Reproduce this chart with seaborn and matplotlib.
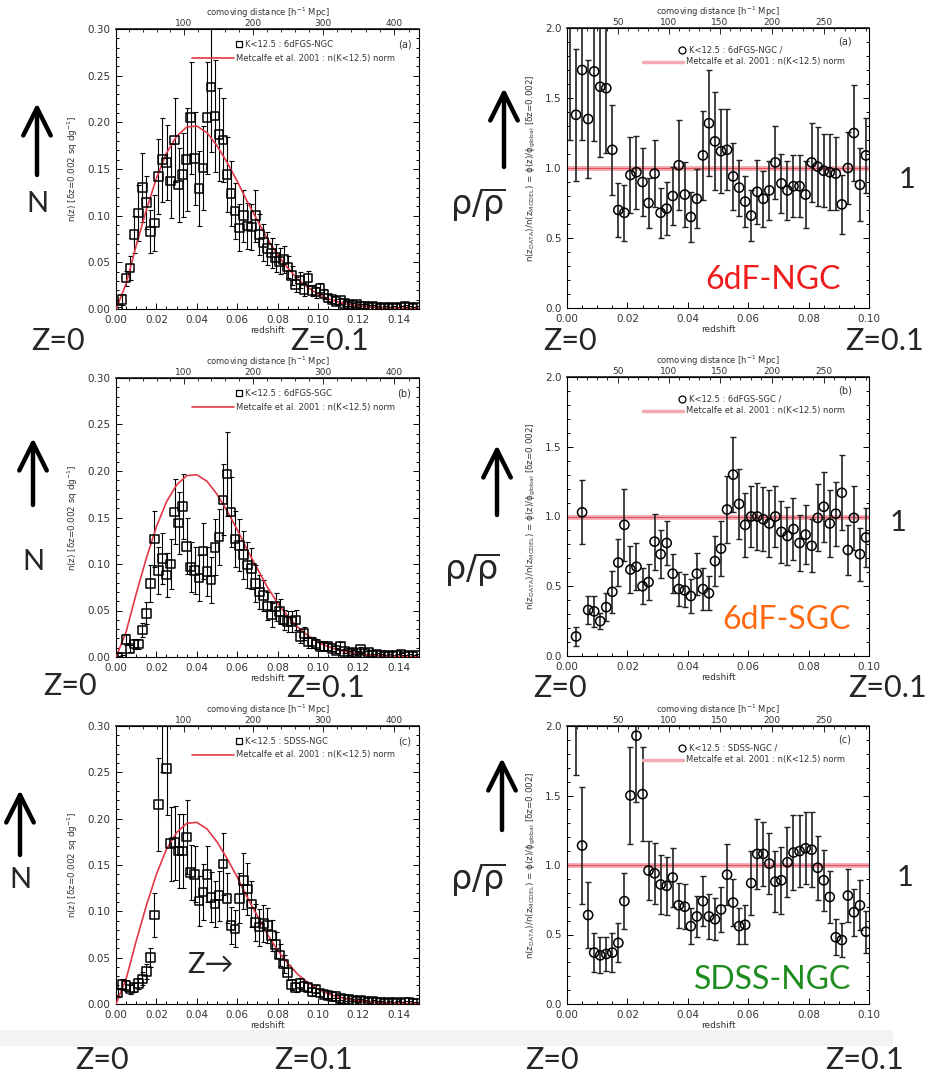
import numpy as np
import matplotlib
matplotlib.use("Agg")
import matplotlib.pyplot as plt
import seaborn as sns
from matplotlib.patches import FancyArrowPatch, Rectangle
from matplotlib.ticker import MultipleLocator, FixedLocator, FormatStrFormatter

# ---- data ----
# bin centres, dz = 0.002
z_left = np.arange(0.001, 0.150, 0.002)    # 75 bins, n(z) panels
z_right = np.arange(0.001, 0.100, 0.002)   # 50 bins, ratio panels

# Metcalfe et al. 2001 model n(K<12.5)
model_z = [0.000, 0.005, 0.010, 0.015, 0.020, 0.025, 0.030, 0.035, 0.040, 0.045,
           0.050, 0.055, 0.060, 0.065, 0.070, 0.075, 0.080, 0.085, 0.090, 0.095,
           0.100, 0.105, 0.110, 0.115, 0.120, 0.125, 0.130, 0.135, 0.140, 0.145, 0.150]
model_n = [0.000, 0.027, 0.068, 0.106, 0.140, 0.167, 0.185, 0.195, 0.196, 0.189,
           0.175, 0.157, 0.137, 0.115, 0.095, 0.075, 0.058, 0.044, 0.032, 0.023,
           0.016, 0.011, 0.0075, 0.005, 0.0033, 0.0022, 0.0014, 0.0009, 0.0006, 0.0004, 0.0002]

# (a) 6dFGS-NGC
ngc_n = [0.000, 0.010, 0.033, 0.044, 0.080, 0.103, 0.130, 0.114, 0.083, 0.092,
         0.142, 0.160, 0.157, 0.137, 0.181, 0.133, 0.144, 0.160, 0.205, 0.161,
         0.129, 0.151, 0.205, 0.238, 0.207, 0.187, 0.181, 0.144, 0.124, 0.105,
         0.087, 0.100, 0.089, 0.088, 0.100, 0.080, 0.071, 0.065, 0.060, 0.055,
         0.051, 0.053, 0.045, 0.036, 0.026, 0.031, 0.021, 0.033, 0.020, 0.018,
         0.022, 0.016, 0.012, 0.010, 0.008, 0.009, 0.006, 0.005, 0.004, 0.005,
         0.003, 0.003, 0.002, 0.003, 0.002, 0.001, 0.002, 0.001, 0.002, 0.001,
         0.002, 0.003, 0.002, 0.001, 0.002]
ngc_err = [0.002, 0.006, 0.008, 0.013, 0.020, 0.030, 0.037, 0.028, 0.023, 0.030,
           0.040, 0.045, 0.040, 0.040, 0.045, 0.040, 0.045, 0.055, 0.060, 0.050,
           0.040, 0.045, 0.060, 0.070, 0.060, 0.050, 0.045, 0.040, 0.035, 0.030,
           0.025, 0.028, 0.025, 0.025, 0.028, 0.022, 0.020, 0.018, 0.016, 0.015,
           0.014, 0.014, 0.012, 0.010, 0.008, 0.009, 0.007, 0.008, 0.006, 0.006,
           0.006, 0.005, 0.004, 0.004, 0.003, 0.003, 0.003, 0.002, 0.002, 0.002,
           0.002, 0.002, 0.002, 0.001, 0.001, 0.001, 0.001, 0.001, 0.001, 0.001,
           0.001, 0.001, 0.001, 0.001, 0.001]
ngc_ratio = [2.40, 1.38, 1.70, 1.35, 1.69, 1.58, 1.57, 1.13, 0.70, 0.68,
             0.95, 0.97, 0.90, 0.75, 0.96, 0.68, 0.71, 0.80, 1.02, 0.81,
             0.65, 0.78, 1.09, 1.32, 1.19, 1.12, 1.13, 0.94, 0.86, 0.76,
             0.66, 0.83, 0.78, 0.84, 1.04, 0.89, 0.84, 0.87, 0.87, 0.81,
             1.04, 1.01, 0.98, 0.97, 0.96, 0.74, 1.00, 1.25, 0.88, 1.09]
ngc_ratio_err = [1.20, 0.47, 0.50, 0.42, 0.50, 0.50, 0.46, 0.32, 0.19, 0.20,
                 0.27, 0.26, 0.24, 0.18, 0.24, 0.18, 0.19, 0.21, 0.32, 0.23,
                 0.18, 0.21, 0.32, 0.38, 0.35, 0.30, 0.29, 0.24, 0.20, 0.18,
                 0.18, 0.23, 0.20, 0.21, 0.26, 0.21, 0.21, 0.22, 0.22, 0.24,
                 0.28, 0.28, 0.26, 0.27, 0.26, 0.21, 0.26, 0.34, 0.26, 0.27]

# (b) 6dFGS-SGC
sgc_n = [0.000, 0.000, 0.019, 0.009, 0.014, 0.014, 0.029, 0.047, 0.079, 0.127,
         0.093, 0.106, 0.088, 0.100, 0.156, 0.144, 0.162, 0.119, 0.097, 0.093,
         0.085, 0.114, 0.092, 0.083, 0.118, 0.129, 0.169, 0.197, 0.156, 0.127,
         0.120, 0.110, 0.099, 0.095, 0.079, 0.070, 0.066, 0.055, 0.045, 0.054,
         0.049, 0.040, 0.038, 0.038, 0.040, 0.022, 0.025, 0.016, 0.016, 0.014,
         0.011, 0.011, 0.011, 0.009, 0.007, 0.012, 0.006, 0.004, 0.005, 0.004,
         0.008, 0.004, 0.005, 0.002, 0.003, 0.002, 0.001, 0.002, 0.001, 0.002,
         0.003, 0.001, 0.002, 0.001, 0.002]
sgc_err = [0.001, 0.002, 0.006, 0.004, 0.005, 0.005, 0.008, 0.012, 0.020, 0.030,
           0.025, 0.027, 0.024, 0.027, 0.035, 0.033, 0.035, 0.030, 0.027, 0.025,
           0.025, 0.030, 0.026, 0.025, 0.030, 0.030, 0.038, 0.045, 0.038, 0.030,
           0.028, 0.026, 0.025, 0.022, 0.020, 0.018, 0.017, 0.015, 0.013, 0.015,
           0.013, 0.011, 0.011, 0.011, 0.011, 0.007, 0.007, 0.006, 0.006, 0.005,
           0.004, 0.004, 0.004, 0.003, 0.003, 0.004, 0.002, 0.002, 0.002, 0.002,
           0.003, 0.002, 0.002, 0.001, 0.001, 0.001, 0.001, 0.001, 0.001, 0.001,
           0.001, 0.001, 0.001, 0.001, 0.001]
sgc_ratio = [np.nan, 0.14, 1.03, 0.33, 0.32, 0.25, 0.35, 0.46, 0.67, 0.94,
             0.62, 0.64, 0.50, 0.53, 0.82, 0.73, 0.81, 0.59, 0.48, 0.47,
             0.43, 0.59, 0.48, 0.45, 0.68, 0.77, 1.05, 1.30, 1.09, 0.94,
             1.00, 1.00, 0.98, 0.95, 1.00, 0.89, 0.86, 0.91, 0.81, 0.87,
             0.79, 0.99, 1.07, 0.95, 1.02, 1.17, 0.76, 0.99, 0.73, 0.85]
sgc_ratio_err = [np.nan, 0.07, 0.23, 0.10, 0.11, 0.06, 0.10, 0.15, 0.17, 0.26,
                 0.17, 0.17, 0.13, 0.13, 0.20, 0.17, 0.16, 0.14, 0.12, 0.12,
                 0.12, 0.15, 0.15, 0.12, 0.18, 0.20, 0.24, 0.27, 0.25, 0.23,
                 0.22, 0.24, 0.23, 0.24, 0.22, 0.22, 0.21, 0.22, 0.20, 0.21,
                 0.19, 0.24, 0.25, 0.24, 0.23, 0.27, 0.18, 0.23, 0.19, 0.21]

# (c) SDSS-NGC
sdss_n = [0.012, 0.021, 0.020, 0.016, 0.018, 0.022, 0.027, 0.035, 0.050, 0.096,
          0.215, 0.310, 0.254, 0.173, 0.174, 0.165, 0.165, 0.180, 0.142, 0.140,
          0.111, 0.121, 0.140, 0.115, 0.108, 0.117, 0.151, 0.114, 0.085, 0.081,
          0.114, 0.133, 0.124, 0.108, 0.088, 0.083, 0.087, 0.085, 0.074, 0.064,
          0.053, 0.043, 0.034, 0.021, 0.018, 0.022, 0.019, 0.018, 0.013, 0.016,
          0.012, 0.010, 0.009, 0.008, 0.008, 0.006, 0.005, 0.005, 0.004, 0.003,
          0.004, 0.003, 0.002, 0.003, 0.002, 0.002, 0.001, 0.002, 0.001, 0.002,
          0.001, 0.002, 0.002, 0.001, 0.001]
sdss_err = [0.004, 0.006, 0.006, 0.005, 0.005, 0.006, 0.007, 0.008, 0.010, 0.024,
            0.050, 0.060, 0.050, 0.040, 0.040, 0.040, 0.040, 0.040, 0.030, 0.030,
            0.027, 0.030, 0.030, 0.027, 0.025, 0.027, 0.033, 0.027, 0.020, 0.020,
            0.027, 0.030, 0.028, 0.025, 0.020, 0.020, 0.020, 0.019, 0.017, 0.014,
            0.012, 0.010, 0.008, 0.006, 0.005, 0.006, 0.005, 0.005, 0.004, 0.004,
            0.003, 0.003, 0.003, 0.002, 0.002, 0.002, 0.002, 0.002, 0.001, 0.001,
            0.001, 0.001, 0.001, 0.001, 0.001, 0.001, 0.001, 0.001, 0.001, 0.001,
            0.001, 0.001, 0.001, 0.001, 0.001]
sdss_ratio = [np.nan, 2.20, 1.14, 0.64, 0.37, 0.35, 0.36, 0.37, 0.44, 0.74,
              1.50, 1.93, 1.51, 0.96, 0.94, 0.86, 0.85, 0.91, 0.71, 0.70,
              0.56, 0.63, 0.74, 0.63, 0.61, 0.68, 0.93, 0.73, 0.56, 0.57,
              0.87, 1.08, 1.08, 1.01, 0.88, 0.89, 1.02, 1.09, 1.10, 1.12,
              1.11, 0.98, 0.89, 0.77, 0.48, 0.46, 0.78, 0.66, 0.71, 0.52]
sdss_ratio_err = [np.nan, 0.55, 0.42, 0.24, 0.14, 0.13, 0.12, 0.14, 0.14, 0.20,
                  0.35, 0.48, 0.34, 0.21, 0.22, 0.21, 0.21, 0.21, 0.16, 0.16,
                  0.13, 0.15, 0.18, 0.16, 0.15, 0.16, 0.22, 0.17, 0.13, 0.14,
                  0.23, 0.25, 0.23, 0.22, 0.22, 0.24, 0.25, 0.27, 0.26, 0.26,
                  0.27, 0.23, 0.22, 0.19, 0.13, 0.12, 0.19, 0.17, 0.18, 0.15]

samples = ['6dFGS-NGC', '6dFGS-SGC', 'SDSS-NGC']
panel_tags = ['(a)', '(b)', '(c)']
big_labels = ['6dF-NGC', '6dF-SGC', 'SDSS-NGC']
big_colors = ['#ee1c1c', '#ff6a10', '#1e8c1e']

left_data = [(ngc_n, ngc_err), (sgc_n, sgc_err), (sdss_n, sdss_err)]
right_data = [(ngc_ratio, ngc_ratio_err), (sgc_ratio, sgc_ratio_err), (sdss_ratio, sdss_ratio_err)]

# ---- figure ----
sns.set_theme(style="ticks")
plt.rcParams['font.family'] = ['DejaVu Sans']
plt.rcParams['mathtext.fontset'] = 'dejavusans'
plt.rcParams['mathtext.default'] = 'regular'

W, H = 928, 1081
fig = plt.figure(figsize=(W / 100, H / 100), dpi=100)
fig.patch.set_facecolor('white')

RED = '#e23848'
PINK = '#f4aab2'
INK = '#333333'
BIG = ['Lato', 'DejaVu Sans']


def px_axes(x0, y0, x1, y1):
    return fig.add_axes([x0 / W, 1 - y1 / H, (x1 - x0) / W, (y1 - y0) / H])


def z2d(z):
    z = np.asarray(z, float)
    return 2997.9 * (z - 0.225 * z ** 2)


def d2z(d):
    d = np.asarray(d, float)
    disc = np.clip(1 - 0.9 * d / 2997.9, 0, None)
    return (1 - np.sqrt(disc)) / 0.45


def style(ax, xmax, ymax, ymaj, ymin, yfmt, dticks, dminor, ylabel):
    ax.set_xlim(0, xmax)
    ax.set_ylim(0, ymax)
    ax.xaxis.set_major_locator(MultipleLocator(0.02))
    ax.xaxis.set_minor_locator(MultipleLocator(0.005))
    ax.yaxis.set_major_locator(MultipleLocator(ymaj))
    ax.yaxis.set_minor_locator(MultipleLocator(ymin))
    ax.xaxis.set_major_formatter(FormatStrFormatter('%.2f'))
    ax.yaxis.set_major_formatter(FormatStrFormatter(yfmt))
    ax.tick_params(which='both', direction='in', top=False, right=True,
                   labelsize=7.5, labelcolor=INK, color='black', width=0.7)
    ax.tick_params(which='major', length=4.5, pad=4)
    ax.tick_params(which='minor', length=2.2)
    for s in ax.spines.values():
        s.set_color('black')
        s.set_linewidth(0.8)
    ax.set_xlabel('redshift', fontsize=6.5, color=INK, labelpad=1)
    ax.set_ylabel(ylabel, fontsize=6.3, color=INK, labelpad=5)
    sec = ax.secondary_xaxis('top', functions=(z2d, d2z))
    sec.xaxis.set_major_locator(FixedLocator(dticks))
    sec.xaxis.set_minor_locator(MultipleLocator(dminor))
    sec.tick_params(which='both', direction='in', labelsize=6.5, labelcolor=INK, pad=0.5, width=0.7)
    sec.tick_params(which='major', length=4.5)
    sec.tick_params(which='minor', length=2.2)
    sec.set_xlabel('comoving distance [h$^{-1}$ Mpc]', fontsize=6, color=INK, labelpad=2.5)


left_boxes = [(116, 29, 419, 309), (116, 378, 419, 657), (116, 726, 419, 1004)]
right_boxes = [(567, 28, 869, 308), (567, 377, 869, 656), (567, 726, 869, 1004)]

for i in range(3):
    # n(z) panel
    ax = px_axes(*left_boxes[i])
    n, e = left_data[i]
    ax.errorbar(z_left, n, yerr=e, fmt='none', ecolor='black', elinewidth=0.8,
                capsize=1.8, capthick=0.8, zorder=2)
    sns.lineplot(x=model_z, y=model_n, ax=ax, color=RED, lw=1.2, zorder=3)
    sns.scatterplot(x=z_left, y=n, ax=ax, marker='s', s=38, facecolor='none',
                    edgecolor='black', linewidth=1.1, zorder=4)
    style(ax, 0.15, 0.30, 0.05, 0.01, '%.2f', [100, 200, 300, 400], 20,
          r'n(z) [$\delta$z=0.002 sq dg$^{-1}$]')
    ax.plot([0.25, 0.39], [0.896, 0.896], transform=ax.transAxes, color=RED, lw=1.2)
    ax.plot([0.405], [0.946], transform=ax.transAxes, marker='s', ms=5,
            mfc='none', mec='black', mew=0.9)
    ax.text(0.425, 0.946, 'K<12.5 : ' + samples[i], transform=ax.transAxes,
            fontsize=6, color=INK, va='center')
    ax.text(0.395, 0.896, 'Metcalfe et al. 2001 : n(K<12.5) norm', transform=ax.transAxes,
            fontsize=6, color=INK, va='center')
    ax.text(0.975, 0.946, panel_tags[i], transform=ax.transAxes, fontsize=7,
            color=INK, va='center', ha='right')

    # ratio panel
    ax = px_axes(*right_boxes[i])
    r, re = right_data[i]
    ax.axhline(1.0, color=PINK, lw=3.5, zorder=1)
    ax.axhline(1.0, color=RED, lw=0.8, alpha=0.8, zorder=1)
    ax.errorbar(z_right, r, yerr=re, fmt='none', ecolor='#222222', elinewidth=1.2,
                capsize=2.2, capthick=1.0, zorder=2)
    sns.scatterplot(x=z_right, y=r, ax=ax, marker='o', s=44, facecolor='none',
                    edgecolor='black', linewidth=1.1, zorder=4)
    style(ax, 0.10, 2.0, 0.5, 0.1, '%.1f', [50, 100, 150, 200, 250], 10,
          r'n(z$_{DATA}$)/n(z$_{MODEL}$) = $\phi$(z)/$\phi_{global}$ [$\delta$z=0.002]')
    ax.plot([0.25, 0.385], [0.879, 0.879], transform=ax.transAxes, color=PINK, lw=2.5)
    ax.plot([0.38], [0.921], transform=ax.transAxes, marker='o', ms=5,
            mfc='none', mec='black', mew=0.9)
    ax.text(0.405, 0.921, 'K<12.5 : ' + samples[i] + ' /', transform=ax.transAxes,
            fontsize=6, color=INK, va='center')
    ax.text(0.395, 0.879, 'Metcalfe et al. 2001 : n(K<12.5) norm', transform=ax.transAxes,
            fontsize=6, color=INK, va='center')
    ax.text(0.92, 0.95, panel_tags[i], transform=ax.transAxes, fontsize=7,
            color=INK, va='center', ha='center')

# ---- slide annotations ----
fig.patches.append(Rectangle((0, 1 - 1046 / H), 893 / W, 16 / H, transform=fig.transFigure,
                             facecolor='#f3f3f3', edgecolor='none', zorder=-5))

ov = fig.add_axes([0, 0, 1, 1], zorder=10)
ov.set_xlim(0, W)
ov.set_ylim(H, 0)
ov.axis('off')
ov.patch.set_alpha(0)


def up_arrow(x, y_tail, y_tip):
    ov.add_patch(FancyArrowPatch((x, y_tail), (x, y_tip),
                                 arrowstyle='->,head_length=0.9,head_width=0.45',
                                 mutation_scale=22, lw=3.2, color='black',
                                 shrinkA=0, shrinkB=0))


# left: N arrows
for x, y0, y1, yn in [(37, 175, 103, 204), (33, 505, 438, 562), (20, 855, 790, 880)]:
    up_arrow(x, y0, y1)
    ov.text(x, yn, 'N', fontsize=21, family=BIG, ha='center', va='center')

# right: rho / rho-bar arrows and unit level
for x, y0, y1, xt, yt in [(504, 167, 88, 478, 205), (497, 515, 445, 472, 570), (502, 830, 758, 478, 880)]:
    up_arrow(x, y0, y1)
    ov.text(xt, yt, r'$\rho/\overline{\rho}$', fontsize=24, ha='center', va='center')

for x, y in [(907, 180), (898, 523), (905, 878)]:
    ov.text(x, y, '1', fontsize=21, family=BIG, ha='center', va='center')

# sample names
for (x, y), lab, col in zip([(773, 280), (787, 620), (773, 980)], big_labels, big_colors):
    ov.text(x, y, lab, fontsize=23, family=BIG, color=col, ha='center', va='center')

# redshift range markers
for x, y, lab in [(58, 341, 'Z=0'), (330, 341, 'Z=0.1'), (570, 341, 'Z=0'), (885, 341, 'Z=0.1'),
                  (70, 686, 'Z=0'), (326, 688, 'Z=0.1'), (560, 688, 'Z=0'), (888, 688, 'Z=0.1'),
                  (102, 1060, 'Z=0'), (314, 1060, 'Z=0.1'), (552, 1060, 'Z=0'), (865, 1060, 'Z=0.1')]:
    ov.text(x, y, lab, fontsize=22, family=BIG, ha='center', va='center')

ov.text(211, 965, 'Z\u2192', fontsize=21, family=BIG, ha='center', va='center')

fig.savefig('out.png', dpi=100)
